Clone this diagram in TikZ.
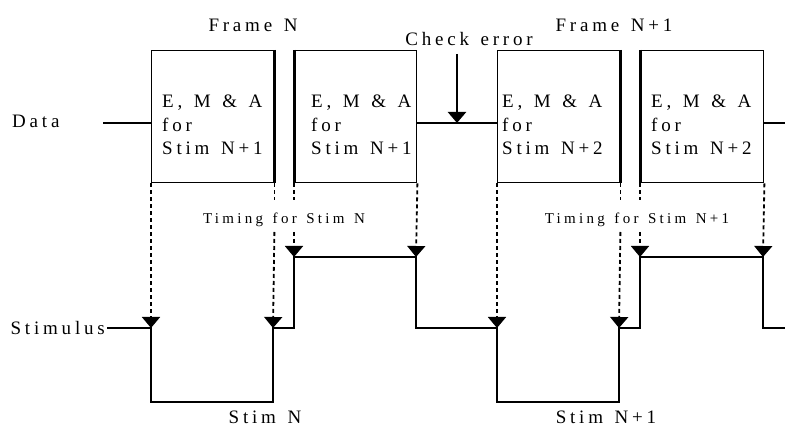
\documentclass[tikz,border=0pt]{standalone}
\usepackage{fontspec}
\setmainfont{Liberation Serif}[LetterSpace=20, WordSpace=1.35]
\newfontfamily\timingfont{Liberation Serif}[LetterSpace=22, WordSpace=1.35]
\usetikzlibrary{arrows.meta}

\begin{document}
\begin{tikzpicture}[x=1pt,y=-1pt,
  lbl/.style={font=\fontsize{19}{23.5}\selectfont, inner sep=0pt},
  small/.style={font=\timingfont\fontsize{15}{18}\selectfont, inner sep=0pt},
  boxtxt/.style={font=\fontsize{19}{23.5}\selectfont, align=left, anchor=base west, inner sep=0pt},
  frm/.style={draw, line width=1.4pt, minimum width=122pt, minimum height=132pt,
              inner sep=0pt, anchor=north west},
  sig/.style={line width=2.4pt},
  edge/.style={line width=3pt},
  head/.style={-{Triangle[length=11pt,width=18pt]}},
  tickseg/.style={line width=1.8pt, dash pattern=on 4pt off 3pt},
  tick/.style={tickseg, head},
  down/.style={sig, head}
]
\useasboundingbox (0,0) rectangle (785,427);

% processing frames
\node[frm] (b1) at (151,50) {};
\node[frm] (b2) at (294,50) {};
\node[frm] (b3) at (497,50) {};
\node[frm, minimum width=123pt] (b4) at (640,50) {};

\draw[edge] (b1.north east) -- (b1.south east);
\draw[edge] (b2.north west) -- (b2.south west);
\draw[edge] (b3.north east) -- (b3.south east);
\draw[edge] (b4.north west) -- (b4.south west);

% three lines per frame; the base anchor sits on the last line
\node[boxtxt] (t1) at (162,155) {E, M \& A\\for\\Stim N+1};
\node[boxtxt] (t2) at (311,155) {E, M \& A\\for\\Stim N+1};
\node[boxtxt] (t3) at (502,155) {E, M \& A\\for\\Stim N+2};
\node[boxtxt] (t4) at (651,155) {E, M \& A\\for\\Stim N+2};

% data line
\coordinate (dL) at (103,123);
\coordinate (dR) at (785,123);
\draw[sig] (dL) -- (dL -| b1.west);
\draw[sig] (b2.east |- dL) -- (b3.west |- dL);
\draw[sig] (b4.east |- dL) -- (dR);

\node[lbl, anchor=west] (data) at (12,121.5) {Data};
\node[lbl] (fN) at (253,25) {Frame N};
\node[lbl] (fN1) at (614,25) {Frame N+1};

% error check
\node[lbl] (chk) at (469,39) {Check error};
\coordinate (chkT) at (457,54);
\draw[down] (chkT) -- (chkT |- dL);

% stimulus waveform
\coordinate (s0) at (107,328);
\coordinate (a1) at (151,328);
\coordinate (a2) at (273,328);
\coordinate (a3) at (294,257);
\coordinate (a4) at (416,257);
\coordinate (a5) at (497,328);
\coordinate (a6) at (619,328);
\coordinate (a7) at (640,257);
\coordinate (a8) at (763,257);
\coordinate (sE) at (785,328);
\draw[sig, line join=miter] (s0) -- (a1) -- (151,402) -- (273,402) -- (a2) -- (294,328) -- (a3)
  -- (a4) -- (416,328) -- (a5) -- (497,402) -- (619,402) -- (a6) -- (640,328) -- (a7)
  -- (a8) -- (763,328) -- (sE);

\node[lbl, anchor=east] (stim) at (105,328) {Stimulus};

% timing markers
\coordinate (gT) at (0,200);
\coordinate (gB) at (0,232);
\draw[tick] (b1.south west) -- (a1);
\draw[tickseg] (b1.south east) -- (b1.south east |- gT);
\draw[tick] (b1.south east |- gB) -- (a2);
\draw[tickseg] (b2.south west) -- (b2.south west |- gT);
\draw[tick] (b2.south west |- gB) -- (a3);
\draw[tick] (b2.south east) -- (a4);

\draw[tick] (b3.south west) -- (a5);
\draw[tickseg] (b3.south east) -- (b3.south east |- gT);
\draw[tick] (b3.south east |- gB) -- (a6);
\draw[tickseg] (b4.south west) -- (b4.south west |- gT);
\draw[tick] (b4.south west |- gB) -- (a7);
\draw[tick] (b4.south east) -- (a8);

\node[small] (tN) at (284,219.5) {Timing for Stim N};
\node[small] (tN1) at (637,219.5) {Timing for Stim N+1};

\node[lbl] (sN) at (265,417) {Stim N};
\node[lbl] (sN1) at (606,417) {Stim N+1};
\end{tikzpicture}
\end{document}
